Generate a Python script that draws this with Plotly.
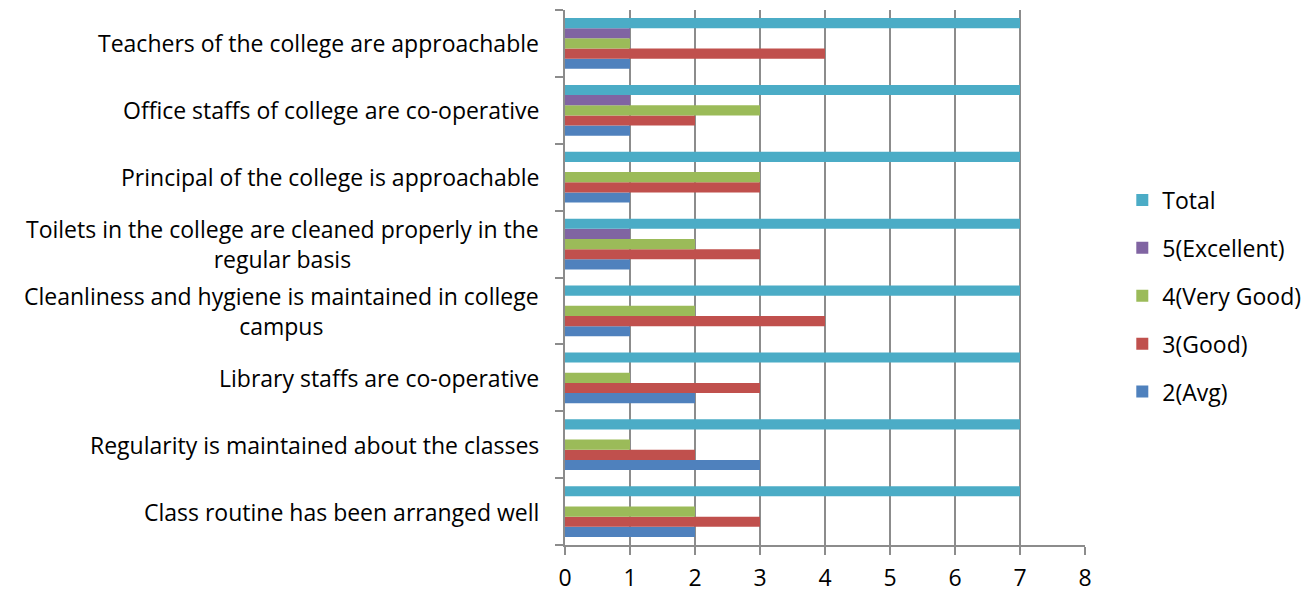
import plotly.graph_objects as go

categories = [
    "Class routine has been arranged well",
    "Regularity is maintained about the classes",
    "Library staffs are co-operative",
    "Cleanliness and hygiene is maintained in college<br>campus",
    "Toilets in the college are cleaned properly in the<br>regular basis",
    "Principal of the college is approachable",
    "Office staffs of college are co-operative",
    "Teachers of the college are approachable",
]
avg = [2, 3, 2, 1, 1, 1, 1, 1]
good = [3, 2, 3, 4, 3, 3, 2, 4]
very_good = [2, 1, 1, 2, 2, 3, 3, 1]
excellent = [0, 0, 0, 0, 1, 0, 1, 1]
total = [7, 7, 7, 7, 7, 7, 7, 7]

series = [
    ("2(Avg)", avg, "#4F81BD"),
    ("3(Good)", good, "#C0504D"),
    ("4(Very Good)", very_good, "#9BBB59"),
    ("5(Excellent)", excellent, "#8064A2"),
    ("Total", total, "#4BACC6"),
]

FONT = "Open Sans"
FS = 23
fig = go.Figure()
for k, (name, vals, col) in enumerate(series):
    fig.add_trace(go.Bar(
        y=list(range(len(categories))), x=vals, name=name, orientation="h",
        marker=dict(color=col, line=dict(width=0)), legendgroup=name,
        legendrank=100 - k,
    ))

for i, c in enumerate(categories):
    fig.add_annotation(
        x=-0.047, xref="paper", y=i, yref="y", text=c, showarrow=False,
        xanchor="right", yanchor="middle", align="center",
        font=dict(family=FONT, size=FS, color="#000000"),
    )

fig.update_layout(
    width=1305, height=592,
    margin=dict(l=565, r=220, t=10, b=47),
    barmode="group", bargap=0.24, bargroupgap=0,
    plot_bgcolor="white", paper_bgcolor="white",
    font=dict(family=FONT, size=FS, color="#000000"),
    legend=dict(
        xref="container", yref="container",
        x=0.86, y=0.5, xanchor="left", yanchor="middle",
        traceorder="grouped", tracegroupgap=15,
        font=dict(family=FONT, size=FS), itemwidth=30,
    ),
    xaxis=dict(
        range=[0, 8], dtick=1, tick0=0, showgrid=True, gridcolor="#8C8C8C", gridwidth=2,
        showline=True, linecolor="#8C8C8C", linewidth=2, ticks="outside", ticklen=8,
        tickcolor="#8C8C8C", tickwidth=2, zeroline=False, automargin=False,
        tickfont=dict(family=FONT, size=FS), ticklabelstandoff=3,
    ),
    yaxis=dict(
        range=[-0.5, len(categories) - 0.5], tickmode="array",
        tickvals=[i - 0.5 for i in range(len(categories) + 1)],
        ticktext=["" for _ in range(len(categories) + 1)],
        showgrid=False, showline=True, linecolor="#8C8C8C", linewidth=2,
        ticks="outside", ticklen=8, tickcolor="#8C8C8C", tickwidth=2, zeroline=False,
        automargin=False,
    ),
)

fig.write_html("out.html", config={"displayModeBar": False})

# remove default browser body margin so the figure sits at the page origin
with open("out.html", "r", encoding="utf-8") as f:
    html = f.read()
html = html.replace("<body>", '<body style="margin:0;padding:0;">', 1)
with open("out.html", "w", encoding="utf-8") as f:
    f.write(html)
